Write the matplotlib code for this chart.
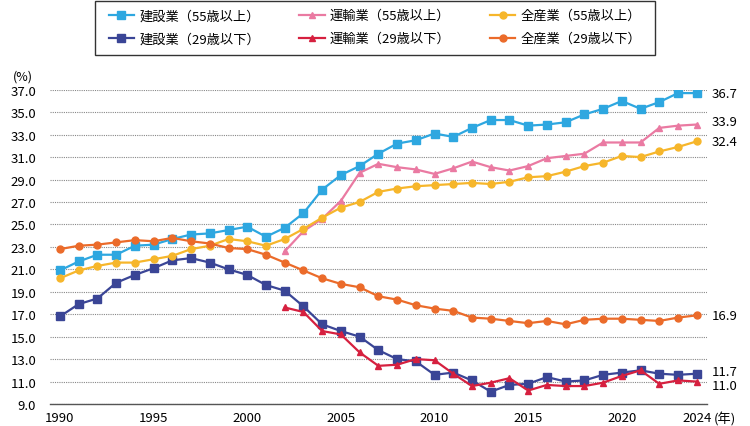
import matplotlib
matplotlib.use('Agg')
import matplotlib.pyplot as plt
from matplotlib.patches import Rectangle

plt.rcParams['font.family'] = ['Noto Sans CJK JP', 'DejaVu Sans']

years = list(range(1990, 2025))
years_t = list(range(2002, 2025))

# 建設業（55歳以上）
con_55 = [20.9, 21.7, 22.3, 22.3, 23.1, 23.2, 23.7, 24.1, 24.2, 24.5, 24.8,
          23.9, 24.7, 26.0, 28.1, 29.4, 30.2, 31.3, 32.2, 32.5, 33.1,
          32.8, 33.6, 34.3, 34.3, 33.8, 33.9, 34.1, 34.8, 35.3, 36.0,
          35.3, 35.9, 36.7, 36.7]
# 建設業（29歳以下）
con_29 = [16.8, 17.9, 18.4, 19.8, 20.5, 21.1, 21.8, 22.0, 21.6, 21.0, 20.5,
          19.6, 19.1, 17.7, 16.1, 15.5, 15.0, 13.8, 13.0, 12.8, 11.6,
          11.8, 11.1, 10.1, 10.7, 10.8, 11.4, 11.0, 11.1, 11.6, 11.8,
          12.0, 11.7, 11.6, 11.7]
# 運輸業（55歳以上） 2002年～
tra_55 = [22.6, 24.4, 25.5, 27.1, 29.6, 30.4, 30.1, 29.9, 29.5,
          30.0, 30.6, 30.1, 29.8, 30.2, 30.9, 31.1, 31.3, 32.3, 32.3,
          32.3, 33.6, 33.8, 33.9]
# 運輸業（29歳以下） 2002年～
tra_29 = [17.6, 17.2, 15.5, 15.2, 13.6, 12.4, 12.5, 13.0, 12.9,
          11.7, 10.6, 10.9, 11.3, 10.2, 10.7, 10.6, 10.6, 10.9, 11.5,
          12.0, 10.8, 11.1, 11.0]
# 全産業（55歳以上）
all_55 = [20.2, 20.9, 21.3, 21.6, 21.6, 21.9, 22.2, 22.8, 23.1, 23.7, 23.5,
          23.1, 23.7, 24.6, 25.6, 26.5, 27.0, 27.9, 28.2, 28.4, 28.5,
          28.6, 28.7, 28.6, 28.8, 29.2, 29.3, 29.7, 30.2, 30.5, 31.1,
          31.0, 31.5, 31.9, 32.4]
# 全産業（29歳以下）
all_29 = [22.8, 23.1, 23.2, 23.4, 23.6, 23.5, 23.8, 23.5, 23.3, 22.9, 22.8,
          22.3, 21.6, 20.9, 20.2, 19.7, 19.4, 18.6, 18.3, 17.8, 17.5,
          17.3, 16.7, 16.6, 16.4, 16.2, 16.4, 16.1, 16.5, 16.6, 16.6,
          16.5, 16.4, 16.7, 16.9]

yticks = [9.0, 11.0, 13.0, 15.0, 17.0, 19.0, 21.0, 23.0, 25.0, 27.0, 29.0,
          31.0, 33.0, 35.0, 37.0]
xticks = [1990, 1995, 2000, 2005, 2010, 2015, 2020, 2024]

c_con55 = '#2ea7e0'
c_con29 = '#3a4596'
c_tra55 = '#ea7aa2'
c_tra29 = '#d6203f'
c_all55 = '#f6b62b'
c_all29 = '#eb6b2a'

fig = plt.figure(figsize=(7.5, 4.27), dpi=100)
ax = fig.add_axes([0.0667, 0.0515, 0.876, 0.736])

ax.plot(years, con_55, color=c_con55, marker='s', ms=5.2, lw=1.6, label='建設業（55歳以上）')
ax.plot(years, con_29, color=c_con29, marker='s', ms=5.2, lw=1.6, label='建設業（29歳以下）')
ax.plot(years_t, tra_55, color=c_tra55, marker='^', ms=5, lw=1.6, label='運輸業（55歳以上）')
ax.plot(years_t, tra_29, color=c_tra29, marker='^', ms=5, lw=1.6, label='運輸業（29歳以下）')
ax.plot(years, all_55, color=c_all55, marker='o', ms=5, lw=1.6, label='全産業（55歳以上）')
ax.plot(years, all_29, color=c_all29, marker='o', ms=5, lw=1.6, label='全産業（29歳以下）')

ax.set_xlim(1989.47, 2024.55)
ax.set_ylim(9, 37)
ax.set_yticks(yticks)
ax.set_yticklabels([f'{v:.1f}' for v in yticks], fontsize=9.5)
ax.set_xticks(xticks)
ax.set_xticklabels([str(x) for x in xticks], fontsize=9.5)
ax.tick_params(axis='x', length=0, pad=5)
ax.tick_params(axis='y', length=0, pad=10)
ax.yaxis.grid(True, linestyle=(0, (1, 1)), color='#888888', lw=0.8)
ax.set_axisbelow(True)
for s in ['left', 'right', 'top']:
    ax.spines[s].set_visible(False)
ax.spines['bottom'].set_color('#555555')
ax.spines['bottom'].set_linewidth(1.0)

ax.text(-0.026, 1.045, '(%)', transform=ax.transAxes, ha='right', va='center', fontsize=9)
ax.annotate('(年)', (2024, 0), xycoords=('data', 'axes fraction'), xytext=(12.5, -10.5),
            textcoords='offset points', ha='left', va='center', fontsize=9.5)

# end labels
ax.annotate(f'{con_55[-1]:.1f}', (2024, con_55[-1]), xytext=(11, 0), textcoords='offset points', va='center', fontsize=9.5)
ax.annotate(f'{tra_55[-1]:.1f}', (2024, tra_55[-1]), xytext=(11, 2), textcoords='offset points', va='center', fontsize=9.5)
ax.annotate(f'{all_55[-1]:.1f}', (2024, all_55[-1]), xytext=(11, 0), textcoords='offset points', va='center', fontsize=9.5)
ax.annotate(f'{all_29[-1]:.1f}', (2024, all_29[-1]), xytext=(11, 0), textcoords='offset points', va='center', fontsize=9.5)
ax.annotate(f'{con_29[-1]:.1f}', (2024, con_29[-1]), xytext=(11, 1.5), textcoords='offset points', va='center', fontsize=9.5)
ax.annotate(f'{tra_29[-1]:.1f}', (2024, tra_29[-1]), xytext=(11, -3), textcoords='offset points', va='center', fontsize=9.5)

leg = fig.legend(loc='center', bbox_to_anchor=(0.5, 0.934), ncol=3, fontsize=9.5,
                 frameon=False, handlelength=1.9, columnspacing=3.0,
                 labelspacing=0.75, handletextpad=0.4)
fig.patches.append(Rectangle((0.1267, 0.869), 0.7467, 0.126, transform=fig.transFigure,
                             fill=False, edgecolor='#333333', lw=1.0))

fig.savefig('out.png', dpi=100)
